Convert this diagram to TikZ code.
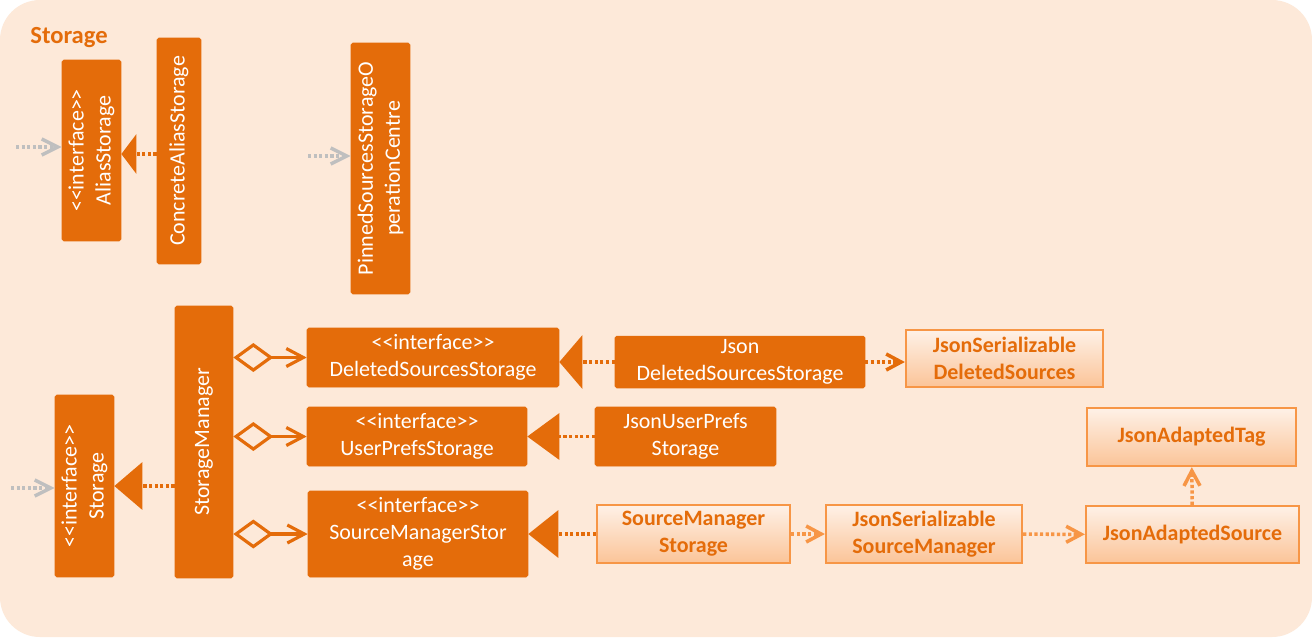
\documentclass[tikz,border=0pt]{standalone}
\usepackage{fontspec}
\setmainfont{Carlito}
\usepackage{tikz}
\usetikzlibrary{arrows.meta,shapes,positioning}
\usepackage{xcolor}
\definecolor{stpeach}{RGB}{253,233,217}
\definecolor{storange}{RGB}{228,108,10}
\definecolor{stlight}{RGB}{247,150,70}
\definecolor{sttop}{RGB}{254,241,231}
\definecolor{stbottom}{RGB}{251,196,152}
\definecolor{stgrey}{RGB}{191,191,191}
\newcommand{\iftag}{<{}<interface>{}>}
\tikzstyle{iface} = [rectangle, rounded corners=1pt, draw=storange, fill=storange, text=white, align=center, inner sep=2pt, font=\fontsize{12.5}{15.3}\selectfont]
\tikzstyle{jsonclass} = [rectangle, draw=stlight, line width=1.3pt, top color=sttop, bottom color=stbottom, text=storange, align=center, inner sep=2pt, font=\fontsize{12.5}{15.3}\selectfont\bfseries]
\tikzstyle{realize} = [line width=2pt, draw=storange, dash pattern=on 1.8pt off 1.4pt]
\tikzstyle{depend} = [line width=2pt, draw=stlight, dash pattern=on 1.8pt off 1.4pt, -{Straight Barb[length=0.3cm,width=0.32cm]}]
\tikzstyle{outside} = [line width=2pt, draw=stgrey, dash pattern=on 1.8pt off 1.4pt, -{Straight Barb[length=0.32cm,width=0.32cm]}]
\tikzstyle{aggregate} = [line width=1.8pt, draw=storange, {Diamond[length=0.8cm,width=0.58cm,fill=stpeach]}-{Straight Barb[length=0.34cm,width=0.36cm]}]

\begin{document}
\begin{tikzpicture}[x=0.02cm, y=-0.02cm]
\useasboundingbox (0,0) rectangle (1312,637);
\fill[white] (0,0) rectangle (1312,637);
\fill[stpeach, rounded corners=0.8cm] (0,0) rectangle (1312,637);
\node (title) at (69,38) [font=\fontsize{14}{17}\selectfont\bfseries, text=storange] {Storage};

% Alias part
\node (alias) [iface, rotate=90, minimum width=3.62cm, minimum height=1.18cm] at (91.5,150.5) {\iftag\\AliasStorage};
\node (concrete) [iface, rotate=90, minimum width=4.52cm, minimum height=0.88cm] at (179,151) {ConcreteAliasStorage};
\node (pinned) [iface, rotate=90, minimum width=5.02cm, minimum height=1.18cm] at (380.5,168.5) {PinnedSourcesStorageO\\perationCentre};

% Storage manager and its parts
\node (storage) [iface, rotate=90, minimum width=3.64cm, minimum height=1.18cm] at (84.5,486) {\iftag\\Storage};
\node (manager) [iface, rotate=90, minimum width=5.44cm, minimum height=1.16cm] at (204,442) {StorageManager};
\node (deleted) [iface, minimum width=5.04cm, minimum height=1.18cm] at (433,357.5) {\iftag\\DeletedSourcesStorage};
\node (userprefs) [iface, minimum width=4.4cm, minimum height=1.18cm] at (417,436.5) {\iftag\\UserPrefsStorage};
\node (smiface) [iface, minimum width=4.4cm, minimum height=1.72cm] at (418,534) {\iftag\\SourceManagerStor\\age};

% Json classes
\node (jsondeleted) [iface, minimum width=5cm, minimum height=1cm] at (740,362) {Json\\DeletedSourcesStorage};
\node (jsonprefs) [iface, minimum width=3.62cm, minimum height=1.18cm] at (685.5,436.5) {JsonUserPrefs\\Storage};
\node (serdeleted) [jsonclass, minimum width=3.94cm, minimum height=1.14cm] at (1004.5,358.5) {JsonSerializable\\DeletedSources};
\node (smclass) [jsonclass, minimum width=3.86cm, minimum height=1.16cm] at (693.5,534) {SourceManager\\Storage};
\node (sersm) [jsonclass, minimum width=3.92cm, minimum height=1.16cm] at (924,534) {JsonSerializable\\SourceManager};
\node (adsource) [jsonclass, minimum width=4.26cm, minimum height=1.14cm] at (1192.5,534.5) {JsonAdaptedSource};
\node (adtag) [jsonclass, minimum width=4.18cm, minimum height=1.16cm] at (1191.5,437) {JsonAdaptedTag};

% Realizations
\draw[realize, -{Triangle[length=0.3cm,width=0.78cm]}] (concrete.north |- 0,154) -- (alias.south |- 0,154);
\draw[realize, -{Triangle[length=0.56cm,width=0.94cm]}] (manager.north |- storage.center) -- (storage.south);
\draw[realize, -{Triangle[length=0.46cm,width=1.06cm]}] (jsondeleted.west) -- (jsondeleted.west -| deleted.east);
\draw[realize, -{Triangle[length=0.64cm,width=0.92cm]}] (jsonprefs) -- (userprefs);
\draw[realize, -{Triangle[length=0.6cm,width=0.94cm]}] (smclass) -- (smiface);

% Aggregations
\draw[aggregate] (manager.south |- deleted.west) -- (deleted.west);
\draw[aggregate] (manager.south |- userprefs.west) -- (userprefs.west);
\draw[aggregate] (manager.south |- smiface.west) -- (smiface.west);

% Dependencies
\draw[depend, draw=storange] (jsondeleted.east) -- (jsondeleted.east -| serdeleted.west);
\draw[depend] (smclass) -- (sersm);
\draw[depend] (sersm) -- (adsource);
\draw[depend] (adsource) -- (adtag);

% From outside the package
\coordinate (fromalias) at (16,147);
\coordinate (frompinned) at (308,156);
\coordinate (fromstorage) at (11,488);
\draw[outside] (fromalias) -- (fromalias -| alias.north);
\draw[outside] (frompinned) -- (frompinned -| pinned.north);
\draw[outside] (fromstorage) -- (fromstorage -| storage.north);
\end{tikzpicture}
\end{document}
